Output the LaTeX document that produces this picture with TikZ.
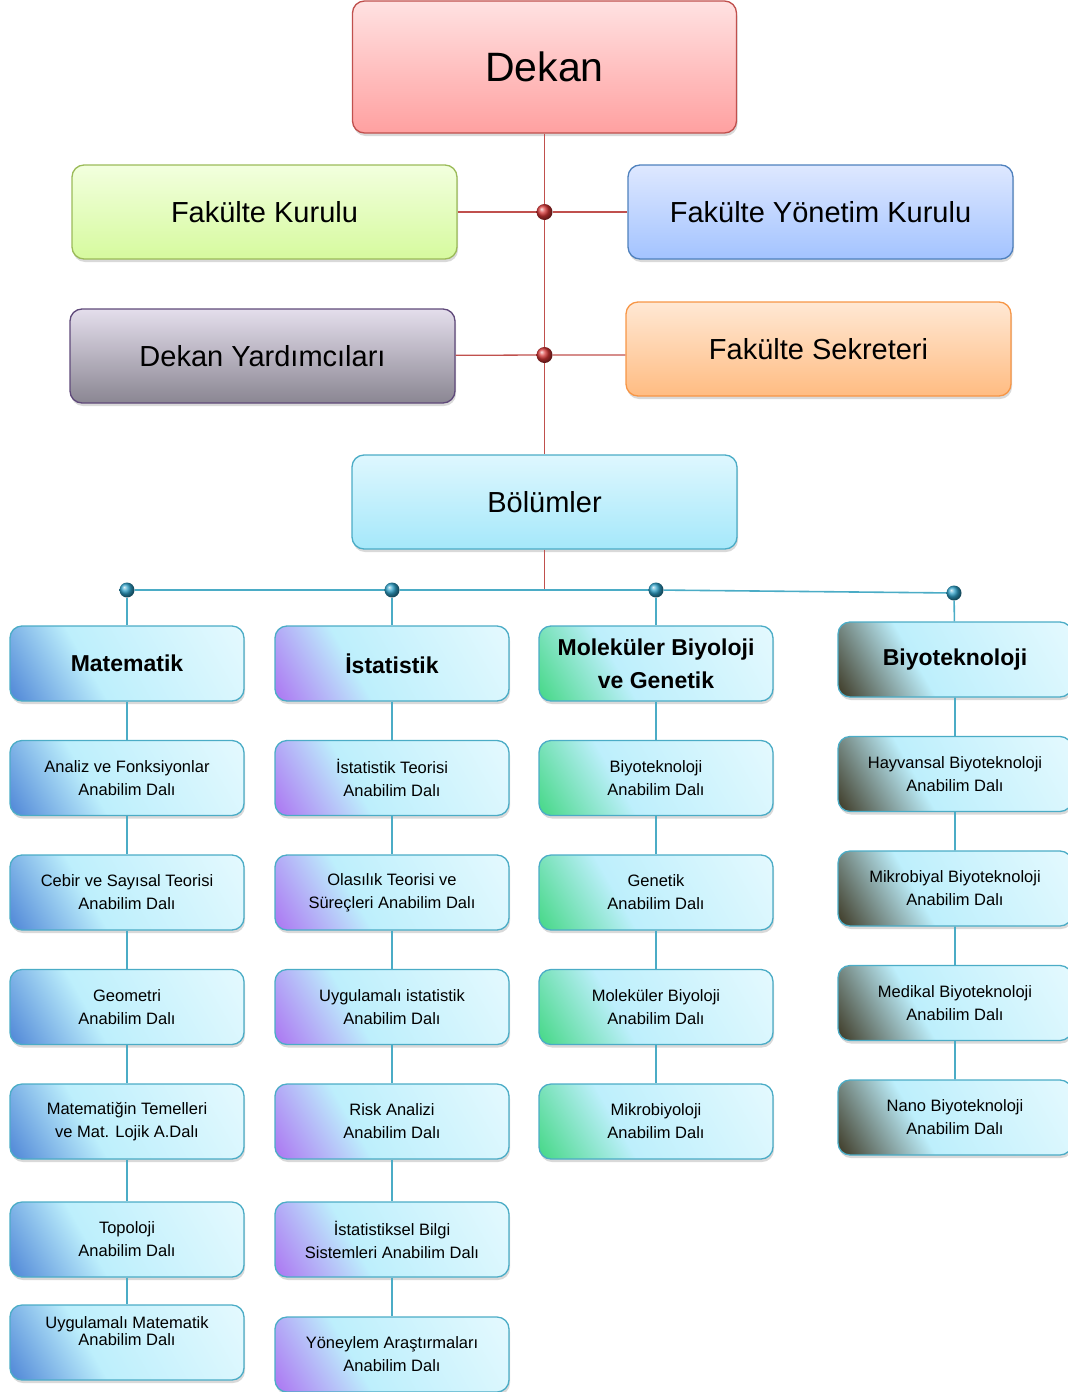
\documentclass[tikz,border=0pt]{standalone}
\usepackage{fontspec}
\setmainfont{Liberation Sans}
\usetikzlibrary{shapes.geometric, shadows}
\definecolor{redline}{RGB}{192,80,77}
\definecolor{tealline}{RGB}{75,172,198}
\definecolor{cyanmid}{RGB}{189,239,252}
\definecolor{cyanlight}{RGB}{228,249,254}
\definecolor{matcorner}{RGB}{80,135,215}
\definecolor{istcorner}{RGB}{172,118,242}
\definecolor{molcorner}{RGB}{70,216,135}
\definecolor{biycorner}{RGB}{62,58,38}
\pgfdeclarehorizontalshading{matshade}{100bp}{color(0bp)=(matcorner); color(16bp)=(matcorner); color(40bp)=(cyanmid); color(84bp)=(cyanlight); color(100bp)=(cyanlight)}
\pgfdeclarehorizontalshading{istshade}{100bp}{color(0bp)=(istcorner); color(16bp)=(istcorner); color(40bp)=(cyanmid); color(84bp)=(cyanlight); color(100bp)=(cyanlight)}
\pgfdeclarehorizontalshading{molshade}{100bp}{color(0bp)=(molcorner); color(16bp)=(molcorner); color(40bp)=(cyanmid); color(84bp)=(cyanlight); color(100bp)=(cyanlight)}
\pgfdeclarehorizontalshading{biyshade}{100bp}{color(0bp)=(biycorner); color(16bp)=(biycorner); color(40bp)=(cyanmid); color(84bp)=(cyanlight); color(100bp)=(cyanlight)}
\tikzstyle{board} = [rectangle, rounded corners=12pt, minimum width=385pt, minimum height=94pt, text centered, line width=1.3pt, font=\fontsize{29}{34}\selectfont, drop shadow={opacity=0.3, shadow xshift=1pt, shadow yshift=-3pt}]
\tikzstyle{dekanbox} = [board, minimum width=384pt, minimum height=132pt, font=\fontsize{41}{48}\selectfont, draw=redline, top color={rgb,255:red,255;green,226;blue,226}, bottom color={rgb,255:red,255;green,160;blue,160}]
\tikzstyle{unitbox} = [rectangle, rounded corners=12pt, minimum width=234pt, minimum height=75pt, align=center, line width=1.3pt, draw=tealline, shading angle=30, font=\fontsize{16.5}{23}\selectfont, drop shadow={opacity=0.3, shadow xshift=1pt, shadow yshift=-3pt}]
\tikzstyle{headbox} = [unitbox, font=\fontsize{23}{33}\selectfont\bfseries]
\tikzstyle{redball} = [circle, inner sep=0pt, minimum size=16pt, ball color={rgb,255:red,215;green,55;blue,55}]
\tikzstyle{tealball} = [circle, inner sep=0pt, minimum size=15pt, ball color={rgb,255:red,45;green,160;blue,200}]
\tikzstyle{redconn} = [line width=1.3pt, draw=redline]
\tikzstyle{tealconn} = [line width=1.6pt, draw=tealline]

\begin{document}
\begin{tikzpicture}[x=1pt, y=-1pt, node distance=114.5pt]
  \useasboundingbox (0,0) rectangle (1068,1392);
  % Draw upper nodes
  \node (dekan)[dekanbox] at (544.5,67) {Dekan};
  \node (fk)[board, draw={rgb,255:red,155;green,187;blue,89}, top color={rgb,255:red,242;green,255;blue,222}, bottom color={rgb,255:red,214;green,250;blue,158}] at (264.5,212) {Fakülte Kurulu};
  \node (fyk)[board, draw={rgb,255:red,79;green,129;blue,189}, top color={rgb,255:red,222;green,232;blue,255}, bottom color={rgb,255:red,163;green,195;blue,255}] at (820.5,212) {Fakülte Yönetim Kurulu};
  \node (dy)[board, draw={rgb,255:red,95;green,73;blue,122}, top color={rgb,255:red,228;green,222;blue,236}, bottom color={rgb,255:red,138;green,134;blue,146}] at (262.5,356) {Dekan Yardımcıları};
  \node (fs)[board, draw={rgb,255:red,247;green,150;blue,70}, top color={rgb,255:red,255;green,232;blue,212}, bottom color={rgb,255:red,255;green,188;blue,130}] at (818.5,349) {Fakülte Sekreteri};
  \node (bol)[board, draw=tealline, top color={rgb,255:red,222;green,247;blue,254}, bottom color={rgb,255:red,165;green,232;blue,250}] at (544.5,502) {Bölümler};
  \node (r1)[redball] at (544.5,212) {};
  \node (r2)[redball] at (544.5,355) {};
  % Draw column heads
  \node (dm)[tealball] at (127,590) {};
  \node (di)[tealball] at (392,590) {};
  \node (dg)[tealball] at (656,590) {};
  \node (db)[tealball] at (954,593) {};
  \coordinate (bar) at (bol.south |- dm);
  \node (mat)[headbox, shading=matshade] at (127,663.5) {Matematik};
  \node (ist)[headbox, shading=istshade] at (392,663.5) {İstatistik};
  \node (mol)[headbox, shading=molshade] at (656,663.5) {Moleküler Biyoloji\\ve Genetik};
  \node (biy)[headbox, shading=biyshade] at (955,659.5) {Biyoteknoloji};
  % Draw Matematik units
  \node (mat1)[unitbox, shading=matshade, below of=mat] {Analiz ve Fonksiyonlar\\Anabilim Dalı};
  \node (mat2)[unitbox, shading=matshade, below of=mat1] {Cebir ve Sayısal Teorisi\\Anabilim Dalı};
  \node (mat3)[unitbox, shading=matshade, below of=mat2] {Geometri\\Anabilim Dalı};
  \node (mat4)[unitbox, shading=matshade, below of=mat3] {Matematiğin Temelleri\\ve Mat. Lojik A.Dalı};
  \node (mat5)[unitbox, shading=matshade, below of=mat4, node distance=118pt] {Topoloji\\Anabilim Dalı};
  \node (mat6)[unitbox, shading=matshade, below of=mat5, node distance=103pt, font=\fontsize{16.5}{17}\selectfont] {Uygulamalı Matematik\\Anabilim Dalı\\[6pt]};
  % Draw Istatistik units
  \node (ist1)[unitbox, shading=istshade, below of=ist] {İstatistik Teorisi\\Anabilim Dalı};
  \node (ist2)[unitbox, shading=istshade, below of=ist1] {Olasılık Teorisi ve\\Süreçleri Anabilim Dalı};
  \node (ist3)[unitbox, shading=istshade, below of=ist2] {Uygulamalı istatistik\\Anabilim Dalı};
  \node (ist4)[unitbox, shading=istshade, below of=ist3] {Risk Analizi\\Anabilim Dalı};
  \node (ist5)[unitbox, shading=istshade, below of=ist4, node distance=118pt] {İstatistiksel Bilgi\\Sistemleri Anabilim Dalı};
  \node (ist6)[unitbox, shading=istshade, below of=ist5, node distance=115pt] {Yöneylem Araştırmaları\\Anabilim Dalı};
  % Draw Molekuler Biyoloji units
  \node (mol1)[unitbox, shading=molshade, below of=mol] {Biyoteknoloji\\Anabilim Dalı};
  \node (mol2)[unitbox, shading=molshade, below of=mol1] {Genetik\\Anabilim Dalı};
  \node (mol3)[unitbox, shading=molshade, below of=mol2] {Moleküler Biyoloji\\Anabilim Dalı};
  \node (mol4)[unitbox, shading=molshade, below of=mol3] {Mikrobiyoloji\\Anabilim Dalı};
  % Draw Biyoteknoloji units
  \node (biy1)[unitbox, shading=biyshade, below of=biy] {Hayvansal Biyoteknoloji\\Anabilim Dalı};
  \node (biy2)[unitbox, shading=biyshade, below of=biy1] {Mikrobiyal Biyoteknoloji\\Anabilim Dalı};
  \node (biy3)[unitbox, shading=biyshade, below of=biy2] {Medikal Biyoteknoloji\\Anabilim Dalı};
  \node (biy4)[unitbox, shading=biyshade, below of=biy3] {Nano Biyoteknoloji\\Anabilim Dalı};
  % Draw lines
  \draw [redconn] (dekan) -- (r1) -- (r2) -- (bol);
  \draw [redconn] (fk) -- (r1) -- (fyk);
  \draw [redconn] (dy) -- (r2) -- (r2 -| fs.west);
  \draw [redconn] (bol) -- (bar);
  \draw [tealconn] (dm) -- (di) -- (dg) -- (db);
  \draw [tealconn] (dm) -- (mat) -- (mat1) -- (mat2) -- (mat3) -- (mat4) -- (mat5) -- (mat6);
  \draw [tealconn] (di) -- (ist) -- (ist1) -- (ist2) -- (ist3) -- (ist4) -- (ist5) -- (ist6);
  \draw [tealconn] (dg) -- (mol) -- (mol1) -- (mol2) -- (mol3) -- (mol4);
  \draw [tealconn] (db) -- (biy) -- (biy1) -- (biy2) -- (biy3) -- (biy4);
\end{tikzpicture}
\end{document}
